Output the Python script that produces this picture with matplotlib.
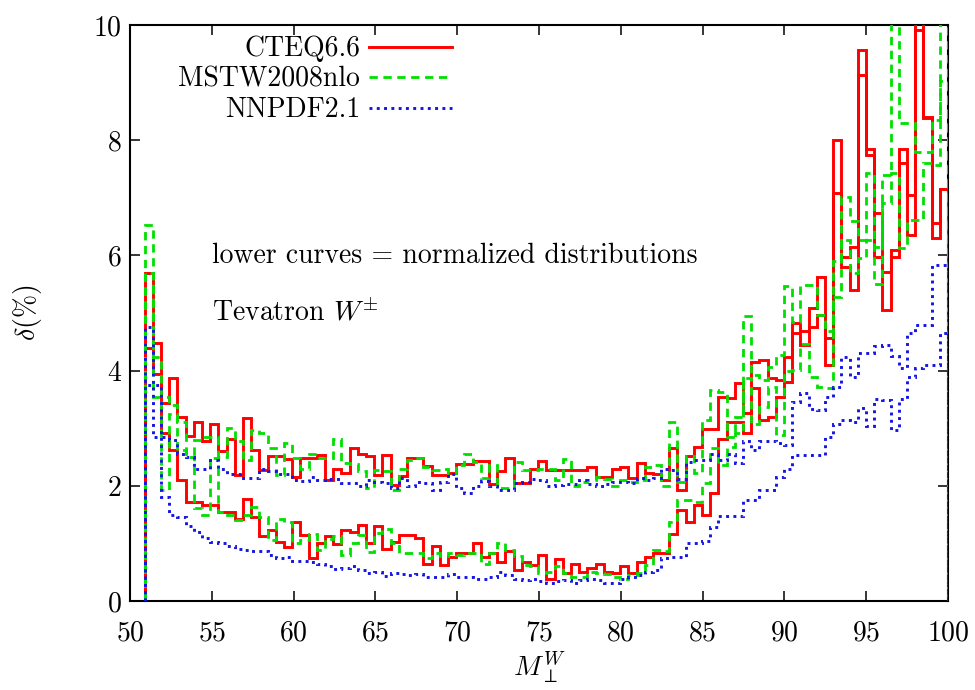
import numpy as np
import matplotlib
matplotlib.use('Agg')
import matplotlib.pyplot as plt

plt.rcParams['font.family'] = ['cmr10', 'DejaVu Serif']
plt.rcParams['mathtext.fontset'] = 'cm'
plt.rcParams['axes.formatter.use_mathtext'] = True
plt.rcParams['axes.unicode_minus'] = False

# bins in M_perp^W (0.5 GeV wide)
mass_edges = np.linspace(50.9, 100.0, 99)

# CTEQ6.6 upper / lower (%)
cteq_up = [5.69, 4.48, 3.44, 3.87, 3.20, 2.86, 3.11, 2.78, 3.07, 2.61,
           2.81, 2.19, 3.18, 2.62, 2.27, 2.52, 2.52, 2.46, 2.16, 2.48,
           2.48, 2.53, 2.10, 2.29, 2.22, 2.65, 2.56, 2.51, 2.19, 2.54,
           2.01, 2.17, 2.49, 2.49, 2.34, 2.19, 2.19, 2.23, 2.37, 2.37,
           2.43, 2.43, 2.03, 2.25, 2.48, 2.04, 2.04, 2.29, 2.43, 2.27,
           2.27, 2.27, 2.27, 2.27, 2.32, 2.16, 2.16, 2.30, 2.33, 2.13,
           2.40, 2.22, 2.21, 2.10, 2.65, 1.92, 2.51, 2.68, 2.98, 2.98,
           3.55, 3.52, 3.79, 3.26, 4.15, 4.18, 3.87, 3.84, 4.24, 4.83,
           4.69, 5.08, 5.63, 4.56, 8.00, 5.98, 6.15, 9.57, 7.84, 6.73,
           5.72, 6.09, 7.84, 7.05, 10.3, 8.41, 6.56, 7.16]
cteq_lo = [4.40, 3.94, 2.92, 2.62, 2.10, 1.72, 1.72, 1.67, 1.67, 1.55,
           1.55, 1.42, 1.77, 1.46, 1.12, 1.23, 1.03, 0.94, 1.38, 1.15,
           0.74, 1.00, 1.12, 0.99, 1.23, 1.20, 1.32, 1.00, 1.30, 0.91,
           1.03, 1.15, 1.15, 1.10, 0.64, 0.96, 0.62, 0.77, 0.83, 0.83,
           1.00, 0.77, 0.83, 0.68, 0.87, 0.54, 0.68, 0.62, 0.80, 0.39,
           0.73, 0.48, 0.65, 0.51, 0.57, 0.64, 0.51, 0.49, 0.61, 0.49,
           0.68, 0.77, 0.83, 0.83, 1.16, 1.58, 1.38, 1.67, 1.49, 1.87,
           2.81, 3.10, 3.10, 2.91, 3.69, 3.14, 3.20, 3.55, 3.80, 4.65,
           4.45, 4.75, 4.97, 4.10, 7.09, 5.80, 5.40, 9.13, 7.74, 5.98,
           5.05, 5.98, 7.60, 6.35, 9.91, 8.38, 6.30, 7.16]

# MSTW2008nlo upper / lower (%)
mstw_up = [6.53, 4.24, 3.55, 3.40, 3.11, 2.56, 2.80, 2.85, 2.85, 2.50,
           3.00, 2.77, 2.45, 2.97, 2.91, 2.65, 2.19, 2.75, 2.49, 2.30,
           2.55, 2.49, 2.48, 2.81, 2.39, 2.38, 2.25, 1.97, 2.27, 2.25,
           1.93, 2.29, 2.45, 2.48, 2.32, 2.27, 2.29, 2.22, 2.36, 2.55,
           2.42, 2.13, 2.36, 1.96, 1.96, 2.42, 2.27, 2.27, 2.29, 2.29,
           2.10, 2.46, 1.99, 2.07, 2.10, 2.15, 2.11, 2.00, 2.10, 2.07,
           2.10, 2.32, 2.36, 2.00, 3.10, 2.07, 2.51, 2.22, 3.14, 3.66,
           3.63, 2.85, 3.20, 4.95, 3.92, 3.84, 4.07, 4.27, 5.46, 4.85,
           5.49, 5.49, 4.97, 4.68, 5.90, 7.02, 6.59, 6.27, 7.43, 6.15,
           7.40, 10.5, 8.30, 8.30, 7.80, 7.80, 8.35, 10.5]
mstw_lo = [5.69, 3.55, 1.93, 3.25, 2.62, 2.50, 1.61, 1.49, 2.48, 1.55,
           1.50, 1.40, 1.50, 1.64, 1.46, 1.06, 1.42, 1.38, 1.01, 1.06,
           1.17, 0.89, 1.07, 1.12, 0.80, 1.00, 1.15, 0.85, 1.18, 1.25,
           1.00, 0.83, 0.83, 0.84, 0.75, 0.83, 0.78, 0.83, 0.80, 0.83,
           0.84, 0.64, 0.84, 1.01, 0.89, 0.78, 0.63, 0.60, 0.49, 0.51,
           0.60, 0.48, 0.42, 0.42, 0.51, 0.49, 0.47, 0.41, 0.39, 0.45,
           0.48, 0.63, 0.89, 0.86, 1.38, 1.75, 1.75, 1.72, 2.05, 2.65,
           2.36, 2.68, 2.91, 3.87, 3.08, 3.37, 3.72, 2.88, 4.00, 4.01,
           4.47, 3.89, 3.72, 3.69, 5.28, 6.27, 5.69, 5.95, 6.27, 5.50,
           6.91, 7.43, 6.12, 6.61, 6.62, 7.60, 7.57, 9.02]

# NNPDF2.1 upper / lower (%)
nnpdf_up = [4.76, 3.75, 2.85, 2.80, 2.55, 2.50, 2.30, 2.30, 2.45, 2.30,
            2.20, 2.20, 2.13, 2.13, 2.30, 2.25, 2.20, 2.20, 2.10, 2.09,
            2.15, 2.10, 2.12, 2.12, 2.05, 2.04, 1.99, 2.10, 2.07, 2.04,
            1.96, 2.14, 2.00, 2.07, 2.05, 1.93, 2.07, 2.20, 1.96, 1.87,
            2.00, 2.09, 2.00, 1.93, 1.93, 2.04, 2.07, 2.12, 2.10, 2.00,
            2.01, 2.03, 2.03, 2.10, 2.03, 2.00, 2.03, 2.07, 2.07, 2.05,
            2.13, 2.10, 2.14, 2.29, 2.27, 2.11, 2.42, 2.45, 2.45, 2.55,
            2.45, 2.55, 2.40, 2.77, 2.62, 2.77, 2.77, 2.75, 2.71, 3.46,
            3.61, 3.34, 3.32, 3.55, 3.72, 4.24, 3.89, 4.30, 4.30, 4.42,
            4.44, 4.25, 4.04, 4.65, 4.79, 4.79, 5.83, 5.83]
nnpdf_lo = [3.75, 2.85, 1.80, 1.50, 1.46, 1.30, 1.20, 1.10, 1.03, 1.00,
            0.95, 0.90, 0.88, 0.86, 0.86, 0.80, 0.75, 0.77, 0.70, 0.70,
            0.68, 0.65, 0.60, 0.55, 0.58, 0.60, 0.54, 0.49, 0.51, 0.43,
            0.49, 0.46, 0.45, 0.47, 0.42, 0.41, 0.42, 0.47, 0.42, 0.41,
            0.39, 0.39, 0.42, 0.51, 0.45, 0.39, 0.37, 0.38, 0.34, 0.32,
            0.34, 0.37, 0.32, 0.37, 0.39, 0.37, 0.31, 0.31, 0.39, 0.42,
            0.45, 0.51, 0.54, 0.74, 0.77, 0.77, 1.00, 1.00, 1.05, 1.29,
            1.48, 1.48, 1.48, 1.75, 1.75, 1.93, 1.93, 2.15, 2.30, 2.53,
            2.53, 2.53, 2.53, 2.85, 3.08, 3.15, 3.10, 3.35, 3.03, 3.50,
            3.49, 2.97, 3.50, 3.89, 4.04, 4.10, 4.10, 4.65]

fig = plt.figure(figsize=(9.75, 6.9), dpi=100)
ax = fig.add_axes([0.1333, 0.129, 0.839, 0.8348])

red = '#ff0000'
green = '#00e000'
blue = '#1414e6'

# CTEQ6.6
ax.stairs(cteq_up, mass_edges, baseline=0, color=red, lw=2.1, zorder=3,
          label='CTEQ6.6')
ax.stairs(cteq_lo, mass_edges, baseline=0, color=red, lw=2.1, zorder=3)
# MSTW2008nlo
ax.stairs(mstw_up, mass_edges, baseline=0, color=green, lw=2.0, zorder=3,
          linestyle=(0, (3, 2)), label='MSTW2008nlo')
ax.stairs(mstw_lo, mass_edges, baseline=0, color=green, lw=2.0, zorder=3,
          linestyle=(0, (3, 2)))
# NNPDF2.1
ax.stairs(nnpdf_up, mass_edges, baseline=0, color=blue, lw=2.1, zorder=3,
          linestyle=(0, (1, 1.5)), label='NNPDF2.1')
ax.stairs(nnpdf_lo, mass_edges, baseline=0, color=blue, lw=2.1, zorder=3,
          linestyle=(0, (1, 1.5)))

ax.set_xlim(50, 100)
ax.set_ylim(0, 10)
ax.set_xticks(np.arange(50, 101, 5))
ax.set_yticks(np.arange(0, 11, 2))
ax.tick_params(direction='in', length=7, width=1.1, top=True, right=True,
               labelsize=20)
ax.tick_params(axis='x', pad=14)
ax.tick_params(axis='y', pad=6)
for s in ax.spines.values():
    s.set_linewidth(1.5)

ax.set_xlabel(r'$M_{\perp}^{W}$', fontsize=20)
ax.xaxis.set_label_coords(0.5, -0.084)
ax.set_ylabel(r'$\delta$(%)', fontsize=20)
ax.yaxis.set_label_coords(-0.105, 0.5)

ax.text(55.0, 6.0, 'lower curves = normalized distributions', fontsize=20,
        va='center', ha='left')
ax.text(55.0, 5.01, r'Tevatron $W^{\pm}$', fontsize=20, va='center', ha='left')

ax.legend(loc='upper right', bbox_to_anchor=(0.397, 0.986), frameon=False,
          markerfirst=False, fontsize=20, handlelength=3.0,
          handletextpad=0.3, labelspacing=0.15, borderpad=0.1,
          borderaxespad=0)

fig.savefig('out.png', dpi=100)
